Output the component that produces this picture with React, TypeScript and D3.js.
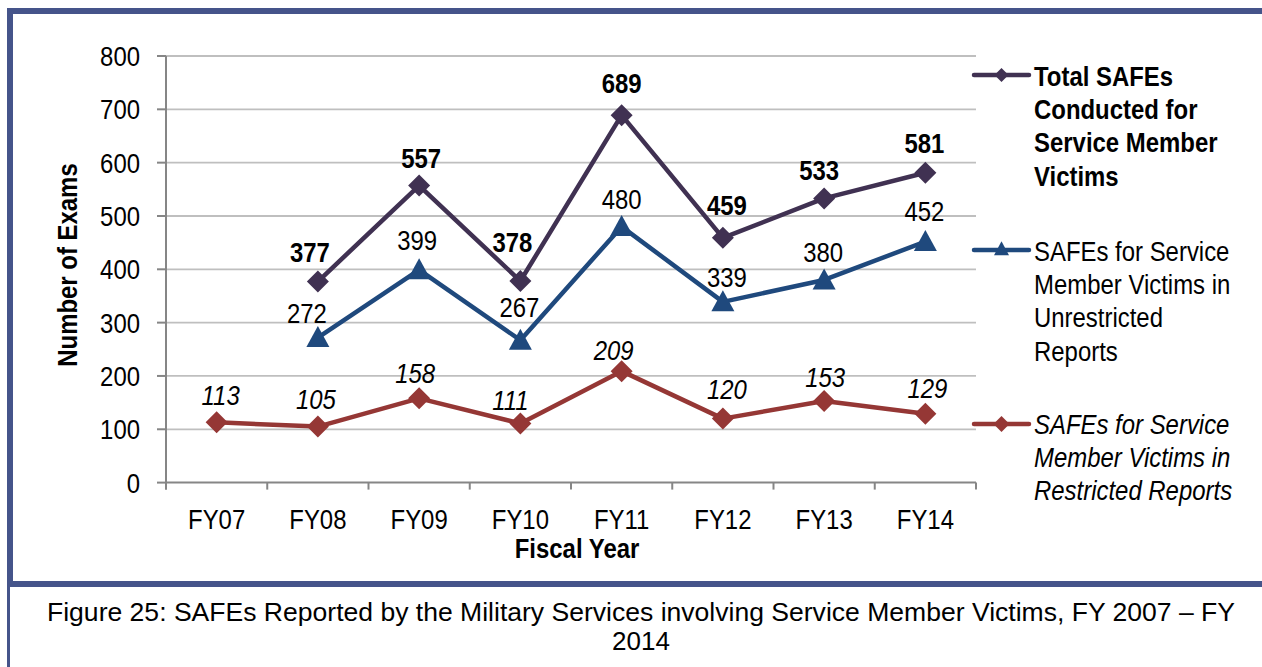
import React from "react";
import * as d3 from "d3";

const categories = ["FY07", "FY08", "FY09", "FY10", "FY11", "FY12", "FY13", "FY14"];
const totalSafes: (number | null)[] = [null, 377, 557, 378, 689, 459, 533, 581];
const unrestricted: (number | null)[] = [null, 272, 399, 267, 480, 339, 380, 452];
const restricted: (number | null)[] = [113, 105, 158, 111, 209, 120, 153, 129];
const yTicks = [0, 100, 200, 300, 400, 500, 600, 700, 800];

const legendTotal = ["Total SAFEs", "Conducted for", "Service Member", "Victims"];
const legendUnres = ["SAFEs for Service", "Member Victims in", "Unrestricted", "Reports"];
const legendRes = ["SAFEs for Service", "Member Victims in", "Restricted Reports"];
const captionLines = [
  "Figure 25: SAFEs Reported by the Military Services involving Service Member Victims, FY 2007 \u2013 FY",
  "2014",
];

// label placement nudges (layout only)
const totalLabelDx = [0, -8, 2, -8, 0, 4, -5, -1];
const totalLabelDy = [0, -20, -18, -29, -22, -23, -18, -20];
const unresLabelDx = [0, -11, -2, -1, 0, 4, -1, -1];
const unresLabelDy = [0, -15, -20, -23, -18, -15, -18, -21];
const resLabelDx = [4, -2, -4, -10, -8, 4, 1, 2];
const resLabelDy = [-17, -18, -15, -13, -11, -20, -14, -16];

const SANS = "'Liberation Sans', Arial, sans-serif";
const C_TOTAL = "#403152";
const C_UNRES = "#1F497D";
const C_RES = "#953735";
const C_BORDER = "#45548A";
const SX = 0.855;
const FS = 28;

type TProps = {
  x: number;
  y: number;
  anchor?: "start" | "middle" | "end";
  weight?: string;
  italic?: boolean;
  rotate?: number;
  size?: number;
  children: React.ReactNode;
};

function T({ x, y, anchor = "start", weight = "normal", italic = false, rotate = 0, size = FS, children }: TProps) {
  return (
    <text
      transform={`translate(${x},${y})${rotate ? ` rotate(${rotate})` : ""} scale(${SX},1)`}
      textAnchor={anchor}
      fontFamily={SANS}
      fontSize={size}
      fontWeight={weight}
      fontStyle={italic ? "italic" : "normal"}
      fill="#000"
    >
      {children}
    </text>
  );
}

export default function App() {
  const W = 1262, H = 667;
  const x = d3.scaleBand<string>().domain(categories).range([166, 976]).paddingInner(0).paddingOuter(0);
  const y = d3.scaleLinear().domain([0, 800]).range([482.6, 56]);
  const cx = (c: string) => (x(c) as number) + x.bandwidth() / 2;

  const line = d3
    .line<number | null>()
    .defined((d) => d !== null)
    .x((_, i) => cx(categories[i]))
    .y((d) => y(d as number));

  const diamond = (px: number, py: number, r: number) =>
    `M${px},${py - r}L${px + r},${py}L${px},${py + r}L${px - r},${py}Z`;
  const triangle = (px: number, py: number, w: number, h: number) =>
    `M${px},${py - h * 0.55}L${px + w / 2},${py + h * 0.45}L${px - w / 2},${py + h * 0.45}Z`;

  return (
    <svg width={W} height={H} style={{ position: "absolute", left: 0, top: 0, background: "#fff" }}>
      {/* frame */}
      <rect x={7} y={8} width={W - 7} height={6} fill={C_BORDER} />
      <rect x={7} y={8} width={6} height={579} fill={C_BORDER} />
      <rect x={7} y={581} width={W - 7} height={6} fill={C_BORDER} />
      <rect x={7} y={587} width={3} height={H - 587} fill={C_BORDER} />

      {/* gridlines */}
      {yTicks.filter((t) => t > 0).map((t) => (
        <line key={"g" + t} x1={166} x2={976} y1={y(t)} y2={y(t)} stroke="#BFBFBF" strokeWidth={1.8} />
      ))}
      {/* y axis */}
      <line x1={166} x2={166} y1={y(800)} y2={y(0) + 7} stroke="#868686" strokeWidth={2} />
      {yTicks.map((t) => (
        <g key={"yt" + t}>
          <line x1={157} x2={166} y1={y(t)} y2={y(t)} stroke="#868686" strokeWidth={2} />
          <T x={140} y={y(t) + 10} anchor="end">
            {t}
          </T>
        </g>
      ))}
      {/* x axis */}
      <line x1={166} x2={976} y1={y(0)} y2={y(0)} stroke="#868686" strokeWidth={2} />
      {categories.map((c) => (
        <line key={"xt" + c} x1={x(c)} x2={x(c)} y1={y(0)} y2={y(0) + 7} stroke="#868686" strokeWidth={2} />
      ))}
      <line x1={976} x2={976} y1={y(0)} y2={y(0) + 7} stroke="#868686" strokeWidth={2} />
      {categories.map((c) => (
        <T key={"xl" + c} x={cx(c)} y={529} anchor="middle">
          {c}
        </T>
      ))}
      <T x={577} y={558} anchor="middle" weight="bold">
        Fiscal Year
      </T>
      <T x={77} y={265} anchor="middle" weight="bold" rotate={-90}>
        Number of Exams
      </T>

      {/* series lines */}
      <path d={line(restricted) as string} fill="none" stroke={C_RES} strokeWidth={4.5} strokeLinejoin="round" />
      <path d={line(unrestricted) as string} fill="none" stroke={C_UNRES} strokeWidth={4.5} strokeLinejoin="round" />
      <path d={line(totalSafes) as string} fill="none" stroke={C_TOTAL} strokeWidth={4.5} strokeLinejoin="round" />

      {/* markers */}
      {restricted.map((v, i) =>
        v === null ? null : <path key={"rm" + i} d={diamond(cx(categories[i]), y(v), 11)} fill={C_RES} />
      )}
      {unrestricted.map((v, i) =>
        v === null ? null : <path key={"um" + i} d={triangle(cx(categories[i]), y(v), 23, 21)} fill={C_UNRES} />
      )}
      {totalSafes.map((v, i) =>
        v === null ? null : <path key={"tm" + i} d={diamond(cx(categories[i]), y(v), 11)} fill={C_TOTAL} />
      )}

      {/* data labels */}
      {restricted.map((v, i) =>
        v === null ? null : (
          <T key={"rl" + i} x={cx(categories[i]) + resLabelDx[i]} y={y(v) + resLabelDy[i]} anchor="middle" italic>
            {v}
          </T>
        )
      )}
      {unrestricted.map((v, i) =>
        v === null ? null : (
          <T key={"ul" + i} x={cx(categories[i]) + unresLabelDx[i]} y={y(v) + unresLabelDy[i]} anchor="middle">
            {v}
          </T>
        )
      )}
      {totalSafes.map((v, i) =>
        v === null ? null : (
          <T
            key={"tl" + i}
            x={cx(categories[i]) + totalLabelDx[i]}
            y={y(v) + totalLabelDy[i]}
            anchor="middle"
            weight="bold"
          >
            {v}
          </T>
        )
      )}

      {/* legend */}
      <line x1={974} x2={1029} y1={75} y2={75} stroke={C_TOTAL} strokeWidth={4.5} strokeLinecap="round" />
      <path d={diamond(1001.5, 75, 7)} fill={C_TOTAL} />
      {legendTotal.map((t, i) => (
        <T key={"lt" + i} x={1034} y={85.5 + i * 33.4} weight="bold">
          {t}
        </T>
      ))}
      <line x1={974} x2={1029} y1={250} y2={250} stroke={C_UNRES} strokeWidth={4.5} strokeLinecap="round" />
      <path d={triangle(1001.5, 249, 15, 14)} fill={C_UNRES} />
      {legendUnres.map((t, i) => (
        <T key={"lu" + i} x={1034} y={260.5 + i * 33.4}>
          {t}
        </T>
      ))}
      <line x1={974} x2={1029} y1={424} y2={424} stroke={C_RES} strokeWidth={4.5} strokeLinecap="round" />
      <path d={diamond(1001.5, 424, 8)} fill={C_RES} />
      {legendRes.map((t, i) => (
        <T key={"lr" + i} x={1034} y={433.5 + i * 33.4} italic>
          {t}
        </T>
      ))}

      {/* caption */}
      <text
        x={641}
        y={621}
        textAnchor="middle"
        fontSize={26}
        fontFamily={SANS}
        textLength={1188}
        lengthAdjust="spacingAndGlyphs"
        fill="#000"
      >
        {captionLines[0]}
      </text>
      <text x={641} y={650} textAnchor="middle" fontSize={26} fontFamily={SANS} fill="#000">
        {captionLines[1]}
      </text>
    </svg>
  );
}
